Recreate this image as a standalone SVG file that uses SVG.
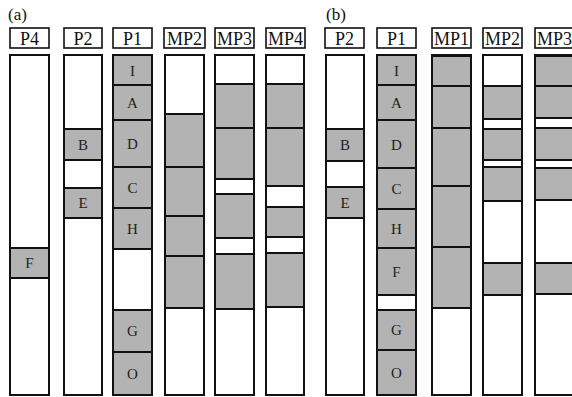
<svg xmlns="http://www.w3.org/2000/svg" width="572" height="397" viewBox="0 0 572 397">
<style>
.bg{fill:#fff}
.col{fill:none;stroke:#111;stroke-width:2}
.seg{fill:#b3b3b3;stroke:#111;stroke-width:2}
.hdr{fill:#fff;stroke:#111;stroke-width:1.6}
.ht{font-family:"Liberation Serif","Times New Roman","DejaVu Serif",serif;font-size:18px;text-anchor:middle;fill:#111}
.st{font-family:"Liberation Serif","Times New Roman","DejaVu Serif",serif;font-size:15px;text-anchor:middle;fill:#222}
.pt{font-family:"Liberation Serif","Times New Roman","DejaVu Serif",serif;font-size:17px;fill:#111}
</style>
<rect class="bg" x="0" y="0" width="572" height="397"/>
<text class="pt" x="8" y="20">(a)</text>
<text class="pt" x="326" y="20">(b)</text>

<g id="a-P4">
<rect class="hdr" x="10" y="28" width="39" height="20"/><text class="ht" x="29.5" y="45">P4</text>
<rect class="bg" x="10" y="55" width="39" height="340"/>
<rect class="seg" x="10" y="248" width="39" height="30"/><text class="st" x="29.5" y="268">F</text>
<rect class="col" x="10" y="55" width="39" height="340"/>
</g>

<g id="a-P2">
<rect class="hdr" x="64" y="28" width="38" height="20"/><text class="ht" x="83" y="45">P2</text>
<rect class="bg" x="64" y="55" width="38" height="340"/>
<rect class="seg" x="64" y="129" width="38" height="31"/><text class="st" x="83" y="150">B</text>
<rect class="seg" x="64" y="188" width="38" height="30"/><text class="st" x="83" y="208">E</text>
<rect class="col" x="64" y="55" width="38" height="340"/>
</g>

<g id="a-P1">
<rect class="hdr" x="113" y="28" width="39" height="20"/><text class="ht" x="132.5" y="45">P1</text>
<rect class="bg" x="113" y="55" width="39" height="340"/>
<rect class="seg" x="113" y="55" width="39" height="30"/><text class="st" x="132.5" y="76">I</text>
<rect class="seg" x="113" y="85" width="39" height="35"/><text class="st" x="132.5" y="108">A</text>
<rect class="seg" x="113" y="120" width="39" height="47"/><text class="st" x="132.5" y="149">D</text>
<rect class="seg" x="113" y="167" width="39" height="41"/><text class="st" x="132.5" y="193">C</text>
<rect class="seg" x="113" y="208" width="39" height="41"/><text class="st" x="132.5" y="234">H</text>
<rect class="seg" x="113" y="310" width="39" height="42"/><text class="st" x="132.5" y="336">G</text>
<rect class="seg" x="113" y="352" width="39" height="43"/><text class="st" x="132.5" y="379">O</text>
<rect class="col" x="113" y="55" width="39" height="340"/>
</g>

<g id="a-MP2">
<rect class="hdr" x="164" y="28" width="41" height="20"/><text class="ht" x="184.5" y="45">MP2</text>
<rect class="bg" x="165" y="55" width="39" height="340"/>
<rect class="seg" x="165" y="114" width="39" height="53"/>
<rect class="seg" x="165" y="167" width="39" height="49"/>
<rect class="seg" x="165" y="216" width="39" height="40"/>
<rect class="seg" x="165" y="256" width="39" height="52"/>
<rect class="col" x="165" y="55" width="39" height="340"/>
</g>

<g id="a-MP3">
<rect class="hdr" x="215" y="28" width="39" height="20"/><text class="ht" x="234.5" y="45">MP3</text>
<rect class="bg" x="215" y="55" width="39" height="340"/>
<rect class="seg" x="215" y="84" width="39" height="44"/>
<rect class="seg" x="215" y="128" width="39" height="51"/>
<rect class="seg" x="215" y="194" width="39" height="44"/>
<rect class="seg" x="215" y="254" width="39" height="55"/>
<rect class="col" x="215" y="55" width="39" height="340"/>
</g>

<g id="a-MP4">
<rect class="hdr" x="266" y="28" width="39" height="20"/><text class="ht" x="285.5" y="45">MP4</text>
<rect class="bg" x="266" y="55" width="38" height="340"/>
<rect class="seg" x="266" y="84" width="38" height="44"/>
<rect class="seg" x="266" y="128" width="38" height="58"/>
<rect class="seg" x="266" y="207" width="38" height="30"/>
<rect class="seg" x="266" y="253" width="38" height="54"/>
<rect class="col" x="266" y="55" width="38" height="340"/>
</g>

<g id="b-P2">
<rect class="hdr" x="325" y="28" width="39" height="20"/><text class="ht" x="344.5" y="45">P2</text>
<rect class="bg" x="326" y="55" width="38" height="340"/>
<rect class="seg" x="326" y="129" width="38" height="32"/><text class="st" x="345" y="150">B</text>
<rect class="seg" x="326" y="187" width="38" height="31"/><text class="st" x="345" y="208">E</text>
<rect class="col" x="326" y="55" width="38" height="340"/>
</g>

<g id="b-P1">
<rect class="hdr" x="377" y="28" width="39" height="20"/><text class="ht" x="396.5" y="45">P1</text>
<rect class="bg" x="377" y="55" width="39" height="340"/>
<rect class="seg" x="377" y="55" width="39" height="30"/><text class="st" x="396.5" y="76">I</text>
<rect class="seg" x="377" y="85" width="39" height="35"/><text class="st" x="396.5" y="108">A</text>
<rect class="seg" x="377" y="120" width="39" height="48"/><text class="st" x="396.5" y="150">D</text>
<rect class="seg" x="377" y="168" width="39" height="41"/><text class="st" x="396.5" y="194">C</text>
<rect class="seg" x="377" y="209" width="39" height="39"/><text class="st" x="396.5" y="234">H</text>
<rect class="seg" x="377" y="248" width="39" height="47"/><text class="st" x="396.5" y="277">F</text>
<rect class="seg" x="377" y="310" width="39" height="40"/><text class="st" x="396.5" y="335">G</text>
<rect class="seg" x="377" y="350" width="39" height="45"/><text class="st" x="396.5" y="378">O</text>
<rect class="col" x="377" y="55" width="39" height="340"/>
</g>

<g id="b-MP1">
<rect class="hdr" x="432" y="28" width="39" height="20"/><text class="ht" x="451.5" y="45">MP1</text>
<rect class="bg" x="432" y="55" width="39" height="340"/>
<rect class="seg" x="432" y="56" width="39" height="30"/>
<rect class="seg" x="432" y="86" width="39" height="42"/>
<rect class="seg" x="432" y="128" width="39" height="58"/>
<rect class="seg" x="432" y="186" width="39" height="61"/>
<rect class="seg" x="432" y="247" width="39" height="61"/>
<rect class="col" x="432" y="55" width="39" height="340"/>
</g>

<g id="b-MP2">
<rect class="hdr" x="483" y="28" width="39" height="20"/><text class="ht" x="502.5" y="45">MP2</text>
<rect class="bg" x="483" y="55" width="39" height="340"/>
<rect class="seg" x="483" y="86" width="39" height="33"/>
<rect class="seg" x="483" y="129" width="39" height="31"/>
<rect class="seg" x="483" y="167" width="39" height="34"/>
<rect class="seg" x="483" y="263" width="39" height="32"/>
<rect class="col" x="483" y="55" width="39" height="340"/>
</g>

<g id="b-MP3">
<rect class="hdr" x="535" y="28" width="39" height="20"/><text class="ht" x="554.5" y="45">MP3</text>
<rect class="bg" x="535" y="55" width="39" height="340"/>
<rect class="seg" x="535" y="56" width="39" height="30"/>
<rect class="seg" x="535" y="86" width="39" height="32"/>
<rect class="seg" x="535" y="128" width="39" height="32"/>
<rect class="seg" x="535" y="168" width="39" height="32"/>
<rect class="seg" x="535" y="263" width="39" height="31"/>
<rect class="col" x="535" y="55" width="39" height="340"/>
</g>
</svg>
